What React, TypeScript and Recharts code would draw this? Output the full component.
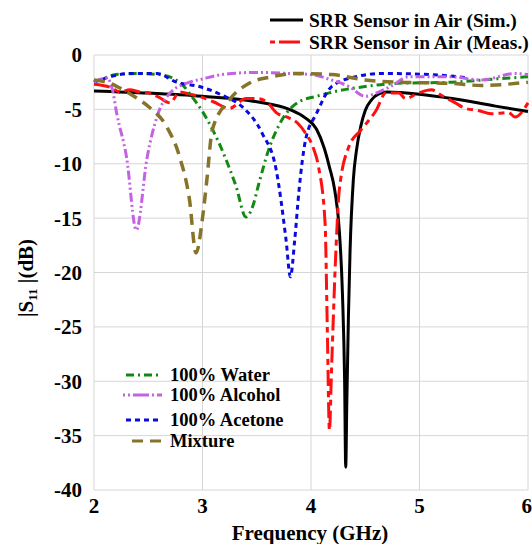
import { CartesianGrid, Label, Line, LineChart, XAxis, YAxis } from "recharts"

// frequency (GHz) / |S11| (dB)
const simFreq = [2.0, 2.5, 3.0, 3.5, 3.8, 3.95, 4.05, 4.12, 4.17, 4.22, 4.26, 4.29, 4.31, 4.32, 4.33, 4.345, 4.36, 4.39, 4.42, 4.46, 4.5, 4.56, 4.62, 4.7, 5.0, 5.3, 5.7, 6.0]
const simDb = [-3.3, -3.5, -3.8, -4.3, -5.0, -5.8, -6.8, -8.5, -10.3, -12.5, -16, -22, -30, -37.9, -32, -24, -18, -11.5, -8.7, -6.5, -5.1, -4.1, -3.6, -3.4, -3.6, -4.0, -4.7, -5.2]

const measFreq = [2.0, 2.08, 2.16, 2.24, 2.33, 2.42, 2.51, 2.6, 2.7, 2.79, 2.88, 2.97, 3.1, 3.25, 3.4, 3.5, 3.59, 3.68, 3.8, 3.88, 3.95, 4.02, 4.07, 4.13, 4.15, 4.17, 4.19, 4.23, 4.26, 4.35, 4.46, 4.6, 4.69, 4.81, 4.87, 4.99, 5.11, 5.2, 5.33, 5.42, 5.54, 5.66, 5.82, 5.88, 6.0]
const measDb = [-2.7, -2.8, -3.0, -3.4, -3.2, -3.4, -3.5, -3.9, -4.4, -3.4, -3.6, -3.8, -4.3, -4.9, -4.0, -4.0, -4.3, -5.3, -5.8, -6.3, -7.2, -8.5, -10.3, -15.5, -25, -34.5, -28.7, -17.9, -12.5, -8.4, -6.9, -5.1, -3.5, -3.5, -4.0, -3.5, -3.2, -3.7, -4.4, -4.9, -5.1, -5.4, -5.3, -5.7, -4.4]

const waterFreq = [2.0, 2.1, 2.2, 2.42, 2.6, 2.72, 2.82, 2.9, 3.0, 3.1, 3.2, 3.31, 3.4, 3.46, 3.52, 3.61, 3.73, 3.89, 4.05, 4.2, 4.5, 4.8, 5.3, 5.7, 6.0]
const waterDb = [-2.5, -2.1, -1.8, -1.7, -1.8, -2.1, -2.8, -3.8, -5.2, -7.0, -9.2, -12.1, -14.9, -14.0, -11.8, -8.7, -6.0, -4.3, -3.8, -3.4, -2.9, -2.6, -2.5, -2.2, -2.0]

const alcoholFreq = [2.0, 2.12, 2.17, 2.21, 2.3, 2.39, 2.49, 2.58, 2.7, 2.88, 3.0, 3.18, 3.5, 3.8, 4.0, 4.19, 4.35, 4.5, 4.6, 4.75, 4.9, 5.27, 5.57, 5.88, 6.0]
const alcoholDb = [-2.5, -2.1, -3.2, -5.4, -9.4, -16.1, -9.4, -5.7, -3.5, -2.5, -2.2, -1.8, -1.6, -1.7, -1.8, -2.3, -2.9, -3.8, -3.5, -2.8, -2.0, -2.0, -2.3, -1.7, -1.8]

const acetoneFreq = [2.0, 2.15, 2.33, 2.58, 2.76, 2.97, 3.18, 3.37, 3.55, 3.68, 3.77, 3.81, 3.85, 3.89, 3.95, 4.05, 4.19, 4.41, 4.65, 5.11, 5.45]
const acetoneDb = [-2.5, -2.0, -1.7, -1.7, -2.5, -2.9, -3.7, -4.8, -7.2, -10.6, -17, -20.4, -17, -12.4, -7.8, -5.4, -2.9, -2.0, -1.7, -1.8, -2.1]

const mixtureFreq = [2.0, 2.15, 2.27, 2.4, 2.51, 2.67, 2.79, 2.88, 2.94, 3.0, 3.04, 3.09, 3.25, 3.43, 3.64, 3.86, 4.19, 4.5, 4.81, 5.27, 5.57, 6.0]
const mixtureDb = [-2.3, -2.6, -3.2, -4.0, -4.8, -6.6, -9.4, -13.3, -18.2, -15, -11.5, -6.9, -4.1, -2.6, -2.0, -1.7, -1.8, -2.3, -2.5, -2.6, -2.8, -2.5]

const xTicks = [2, 3, 4, 5, 6]
const yTicks = [0, -5, -10, -15, -20, -25, -30, -35, -40]

const FONT = "'Liberation Serif', 'Times New Roman', serif"

const toPoints = (f: number[], d: number[]) => f.map((x, i) => ({ f: x, db: d[i] }))

const series = [
  { name: "SRR Sensor in Air (Sim.)", data: toPoints(simFreq, simDb), color: "#000000", dash: undefined, width: 3 },
  { name: "SRR Sensor in Air (Meas.)", data: toPoints(measFreq, measDb), color: "#ff1010", dash: "16 5 6 5", width: 3 },
  { name: "100% Water", data: toPoints(waterFreq, waterDb), color: "#128a12", dash: "8 4 2 4", width: 3 },
  { name: "100% Acetone", data: toPoints(acetoneFreq, acetoneDb), color: "#0a0ae0", dash: "5 4", width: 3 },
  { name: "100% Alcohol", data: toPoints(alcoholFreq, alcoholDb), color: "#c462e4", dash: "9 3 2 3 2 3", width: 3 },
  { name: "Mixture", data: toPoints(mixtureFreq, mixtureDb), color: "#86742a", dash: "11 7", width: 3.5 },
]

const topLegend = [
  { label: "SRR Sensor in Air (Sim.)", color: "#000000", dash: undefined, y: 20 },
  { label: "SRR Sensor in Air (Meas.)", color: "#ff1010", dash: "5 4 16 0", y: 42 },
]

const bottomLegend = [
  { label: "100% Water", color: "#128a12", dash: "8 4 2 4", y: 375, x0: 126 },
  { label: "100% Alcohol", color: "#c462e4", dash: "2 3 2 3 14 0", y: 395, x0: 123 },
  { label: "100% Acetone", color: "#0a0ae0", dash: "5 4", y: 420, x0: 126 },
  { label: "Mixture", color: "#86742a", dash: "11 7", y: 441, x0: 132 },
]

function YLabel() {
  return (
    <text
      transform="rotate(-90, 26, 278)"
      x={26}
      y={278}
      textAnchor="middle"
      dominantBaseline="central"
      fontFamily={FONT}
      fontWeight="bold"
      fontSize={21}
      fill="#000"
    >
      |S
      <tspan fontSize={13} dy={6}>11</tspan>
      <tspan dy={-6}> |(dB)</tspan>
    </text>
  )
}

export default function App() {
  return (
    <div style={{ position: "absolute", left: 0, top: 0, width: 532, height: 544, background: "#fff" }}>
      <LineChart width={532} height={544} margin={{ top: 55, right: 4, bottom: 4, left: 34 }}>
        <CartesianGrid stroke="#d6d6d6" strokeWidth={1} />
        <XAxis
          dataKey="f"
          type="number"
          domain={[2, 6]}
          ticks={xTicks}
          height={50}
          axisLine={false}
          tickLine={false}
          tickSize={0}
          tickMargin={8}
          tick={{ fontSize: 21, fontWeight: "bold", fill: "#000", fontFamily: FONT }}
          allowDuplicatedCategory={false}
        >
          <Label
            content={() => (
              <text x={310} y={540} textAnchor="middle" fontFamily={FONT} fontWeight="bold" fontSize={21} fill="#000">
                Frequency (GHz)
              </text>
            )}
          />
        </XAxis>
        <YAxis
          type="number"
          domain={[-40, 0]}
          ticks={yTicks}
          width={60}
          axisLine={false}
          tickLine={false}
          tickSize={0}
          tickMargin={12}
          tick={{ fontSize: 21, fontWeight: "bold", fill: "#000", fontFamily: FONT }}
        >
          <Label content={() => <YLabel />} />
        </YAxis>
        {series.map((s) => (
          <Line
            key={s.name}
            data={s.data}
            dataKey="db"
            name={s.name}
            type="monotone"
            stroke={s.color}
            strokeWidth={s.width}
            strokeDasharray={s.dash}
            dot={false}
            activeDot={false}
            isAnimationActive={false}
          />
        ))}
      </LineChart>
      <svg
        width={532}
        height={544}
        style={{ position: "absolute", left: 0, top: 0, pointerEvents: "none" }}
      >
        {topLegend.map((l) => (
          <g key={l.label}>
            <line x1={270} x2={303} y1={l.y} y2={l.y} stroke={l.color} strokeWidth={3} strokeDasharray={l.dash} />
            <text x={309} y={l.y} dominantBaseline="central" fontFamily={FONT} fontWeight="bold" fontSize={19.5} fill="#000">
              {l.label}
            </text>
          </g>
        ))}
        {bottomLegend.map((l) => (
          <g key={l.label}>
            <line x1={l.x0} x2={162} y1={l.y} y2={l.y} stroke={l.color} strokeWidth={3} strokeDasharray={l.dash} />
            <text x={170} y={l.y} dominantBaseline="central" fontFamily={FONT} fontWeight="bold" fontSize={18.5} fill="#000">
              {l.label}
            </text>
          </g>
        ))}
      </svg>
    </div>
  )
}
